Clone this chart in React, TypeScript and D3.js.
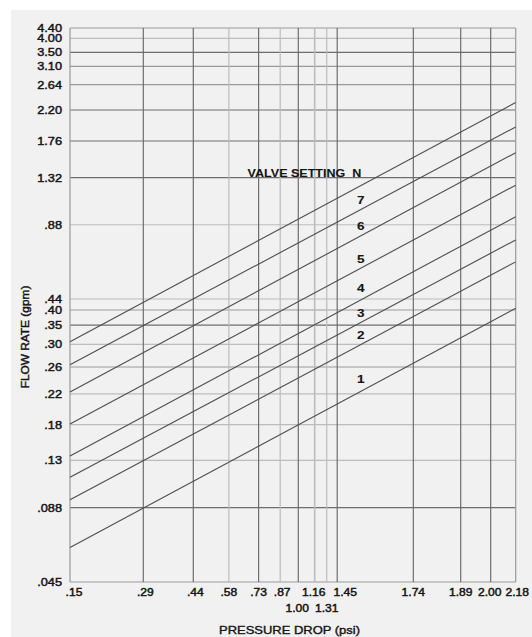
import React from 'react';
import * as d3 from 'd3';

// Tick values as printed on the chart
const pressureTicks = [0.15, 0.29, 0.44, 0.58, 0.73, 0.87, 1.0, 1.16, 1.31, 1.45, 1.74, 1.89, 2.0, 2.18];
const pressureLabels = ['.15', '.29', '.44', '.58', '.73', '.87', '1.00', '1.16', '1.31', '1.45', '1.74', '1.89', '2.00', '2.18'];
const flowTicks = [0.045, 0.088, 0.13, 0.18, 0.22, 0.26, 0.3, 0.35, 0.4, 0.44, 0.88, 1.32, 1.76, 2.2, 2.64, 3.1, 3.5, 4.0, 4.4];
const flowLabels = ['.045', '.088', '.13', '.18', '.22', '.26', '.30', '.35', '.40', '.44', '.88', '1.32', '1.76', '2.20', '2.64', '3.10', '3.50', '4.00', '4.40'];

// Valve lines: flow at the lowest and highest pressure drop
const flowAtMin = [0.065, 0.095, 0.115, 0.136, 0.181, 0.223, 0.264, 0.307];
const flowAtMax = [0.406, 0.66, 0.79, 0.955, 1.25, 1.62, 1.96, 2.33];

// Valve setting labels sit between the lines
const settingNames = ['1', '2', '3', '4', '5', '6', '7'];
const settingFlow = [0.242, 0.326, 0.392, 0.509, 0.681, 0.874, 1.11];
const settingPressure = 1.54;

// Irregular axis spacing of the original scan (fraction of the plot)
const xPos = [0, 0.1645, 0.2766, 0.3565, 0.4232, 0.4716, 0.5122, 0.549, 0.576, 0.5995, 0.7703, 0.8766, 0.9439, 1];
const yPos = [1, 0.8659, 0.7804, 0.7161, 0.6606, 0.6119, 0.571, 0.5365, 0.509, 0.4892, 0.3551, 0.2702, 0.204, 0.148, 0.1023, 0.0691, 0.0439, 0.0186, 0];

const W = 532;
const H = 637;
const margin = { top: 28, left: 70, right: 16.3, bottom: 55 };
const innerW = W - margin.left - margin.right;
const innerH = H - margin.top - margin.bottom;

const DARK = '#6e6e6e';
const MID = '#9a9a9a';
const LIGHT = '#bcbcbc';
const xShade = [MID, DARK, DARK, LIGHT, DARK, LIGHT, DARK, LIGHT, LIGHT, DARK, DARK, DARK, DARK, MID];
const yShade = [MID, DARK, LIGHT, LIGHT, LIGHT, MID, LIGHT, DARK, MID, LIGHT, LIGHT, DARK, DARK, DARK, MID, MID, DARK, LIGHT, MID];

const font = '"Liberation Sans", Arial, Helvetica, sans-serif';
const ink = '#151515';
// the scan's lettering is a bit wider than it is tall
const stretch = 1.15;

export default function App() {
  const x = d3.scaleLinear()
    .domain(pressureTicks)
    .range(xPos.map(f => margin.left + f * innerW));
  const y = d3.scaleLinear()
    .domain(flowTicks)
    .range(yPos.map(f => margin.top + f * innerH));

  const xMin = pressureTicks[0];
  const xMax = pressureTicks[pressureTicks.length - 1];
  const yMin = flowTicks[0];
  const yMax = flowTicks[flowTicks.length - 1];

  const line = d3.line<[number, number]>()
    .x(d => x(d[0]))
    .y(d => y(d[1]));

  // the second row of x labels
  const lowered = new Set(['1.00', '1.31']);
  const labelShift: Record<string, number> = {
    '.15': 4, '.29': 2, '.44': 2, '.87': 2, '1.00': -1, '1.16': -1, '1.45': 8, '2.00': -1, '2.18': 1.5
  };

  const txt = (key: string, tx: number, ty: number, s: string, size: number, anchor: string, bold = false) => (
    <text key={key} transform={`translate(${tx},${ty}) scale(${stretch},1)`} dy="0.36em"
      textAnchor={anchor} fontFamily={font} fontSize={size} fontWeight={bold ? 'bold' : 'normal'}
      fill={ink} stroke={ink} strokeWidth={bold ? 0.1 : 0.45} style={{ whiteSpace: 'pre' }}>
      {s}
    </text>
  );

  return (
    <svg width={W} height={H} style={{ position: 'absolute', left: 0, top: 0, background: '#fff' }}>
      <rect x={11} y={10} width={W - 11} height={H - 10} fill="#f1f1f1" />

      {/* horizontal grid */}
      {flowTicks.map((t, i) => (
        <line key={'h' + i} x1={x(xMin)} x2={x(xMax)} y1={y(t)} y2={y(t)}
          stroke={yShade[i]} strokeWidth={1.2} />
      ))}
      {/* vertical grid */}
      {pressureTicks.map((t, i) => (
        <line key={'v' + i} x1={x(t)} x2={x(t)} y1={y(yMin)} y2={y(yMax)}
          stroke={xShade[i]} strokeWidth={t === 1.16 ? 1.6 : 1.2} />
      ))}

      {/* valve lines */}
      {flowAtMin.map((f, i) => (
        <path key={'l' + i} d={line([[xMin, f], [xMax, flowAtMax[i]]]) || ''}
          fill="none" stroke="#4d4d4d" strokeWidth={1.1} />
      ))}

      {settingNames.map((n, i) => txt('s' + i, x(settingPressure), y(settingFlow[i]), n, 11.8, 'middle', true))}
      {txt('vs', x(1.06), y(1.38), 'VALVE SETTING  N', 10.9, 'middle', true)}

      {/* y tick labels */}
      {flowTicks.map((t, i) => txt('yl' + i, 62, y(t), flowLabels[i], 11.1, 'end'))}
      {/* x tick labels */}
      {pressureTicks.map((t, i) =>
        txt('xl' + i, x(t) + (labelShift[pressureLabels[i]] || 0),
          lowered.has(pressureLabels[i]) ? 608 : 592, pressureLabels[i], 10.5, 'middle'))}

      <text transform={`translate(25,337) rotate(-90) scale(1.1,1)`} dy="0.36em" textAnchor="middle"
        fontFamily={font} fontSize={10.8} fill={ink} stroke={ink} strokeWidth={0.4}>
        FLOW RATE (gpm)
      </text>
      <text transform={`translate(289.5,630) scale(1.1,1)`} dy="0.36em" textAnchor="middle"
        fontFamily={font} fontSize={11.8} fill={ink} stroke={ink} strokeWidth={0.4}>
        PRESSURE DROP (psi)
      </text>
    </svg>
  );
}
